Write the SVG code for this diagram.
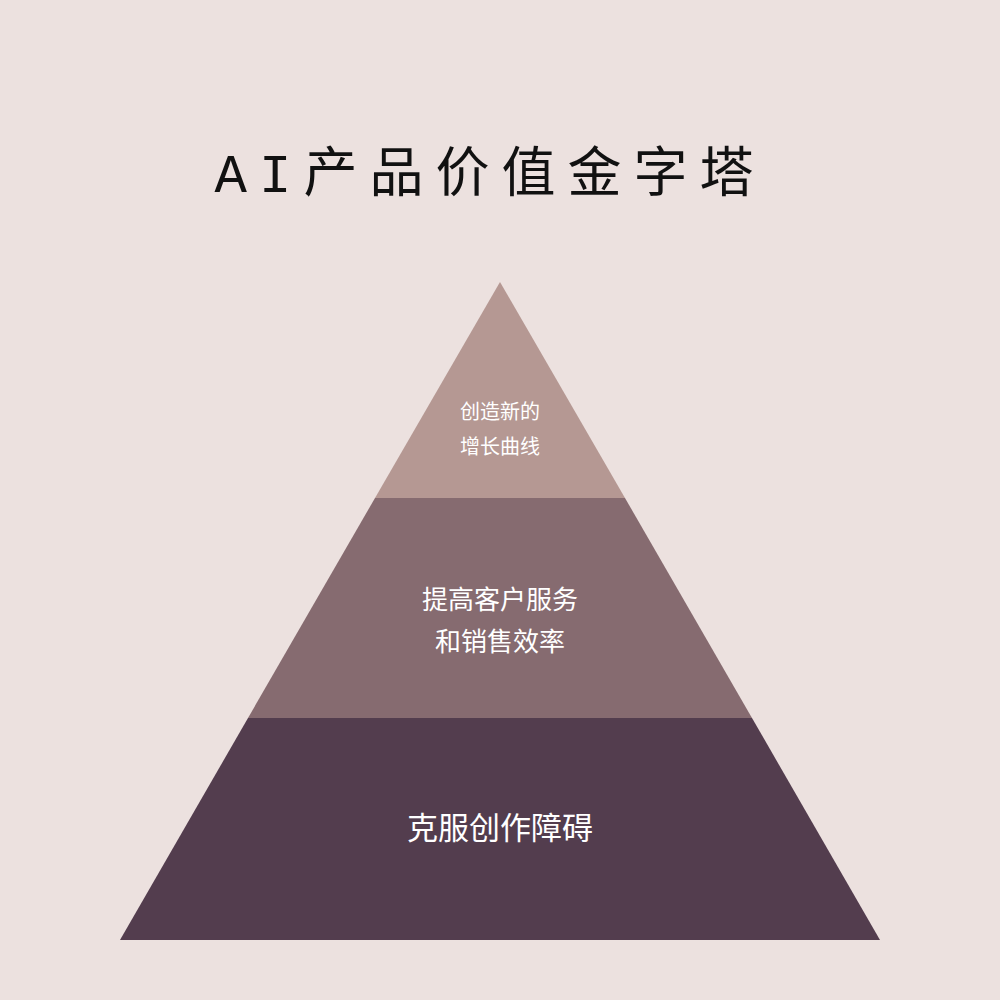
<svg xmlns="http://www.w3.org/2000/svg" width="1000" height="1000" viewBox="0 0 1000 1000">
<style>
.t{font-family:"Noto Sans CJK SC","Noto Sans",sans-serif;fill:#fff;text-anchor:middle}
</style>
<rect width="1000" height="1000" fill="#ECE1DF"/>
<text x="490" y="192" font-family="'Liberation Mono','Noto Sans CJK SC',monospace" font-size="54" letter-spacing="12" text-anchor="middle" fill="#111">AI产品价值金字塔</text>
<g id="top"><polygon points="500,282 625,498 375,498" fill="#B59893"/>
<text class="t" x="500" y="419" font-size="20" fill="#f3eceb">创造新的</text>
<text class="t" x="500" y="454" font-size="20">增长曲线</text></g>
<g id="middle"><polygon points="375,498 625,498 752,718 248,718" fill="#866B70"/>
<text class="t" x="500" y="609" font-size="26">提高客户服务</text>
<text class="t" x="500" y="651" font-size="26">和销售效率</text></g>
<g id="bottom"><polygon points="248,718 752,718 880,940 120,940" fill="#533D4E"/>
<text class="t" x="500" y="839" font-size="31">克服创作障碍</text></g>
<g id="connectors"/>
</svg>
